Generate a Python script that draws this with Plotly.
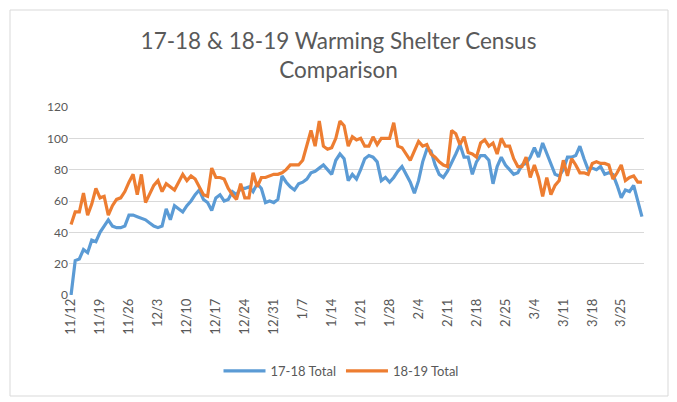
import pandas as pd
import plotly.graph_objects as go

start_date = "2017-11-12"
n_days = 139
dates = pd.date_range(start_date, periods=n_days, freq="D")

total_17_18 = [
    0, 22, 23, 29, 27, 35, 34, 40, 44, 48, 44, 43, 43, 44, 51, 51, 50, 49, 48, 46,
    44, 43, 44, 55, 48, 57, 55, 53, 57, 60, 64, 67, 61, 59, 54, 62, 64, 60, 61, 66,
    64, 68, 68, 69, 66, 71, 68, 59, 60, 59, 61, 76, 72, 69, 67, 71, 72, 74, 78, 79,
    81, 83, 80, 77, 86, 90, 87, 73, 77, 74, 80, 87, 89, 88, 85, 73, 75, 72, 75, 79,
    82, 77, 72, 65, 73, 85, 93, 92, 83, 77, 75, 79, 84, 90, 96, 88, 88, 77, 85, 89,
    89, 86, 71, 82, 88, 83, 80, 77, 78, 83, 84, 88, 94, 88, 97, 90, 84, 77, 76, 80,
    88, 88, 89, 95, 87, 80, 81, 80, 82, 77, 78, 77, 70, 62, 67, 66, 70, 60, 50,
]

total_18_19 = [
    45, 53, 53, 65, 51, 58, 68, 62, 63, 51, 57, 61, 62, 66, 72, 77, 64, 77, 59, 65,
    70, 73, 66, 71, 69, 67, 72, 77, 73, 76, 74, 69, 64, 63, 81, 75, 75, 74, 68, 64,
    61, 71, 62, 62, 78, 69, 75, 75, 76, 77, 77, 78, 80, 83, 83, 83, 86, 96, 105, 95,
    111, 95, 93, 94, 100, 111, 108, 95, 101, 99, 100, 95, 95, 101, 96, 100, 100, 100, 110, 95,
    94, 90, 86, 92, 98, 95, 96, 90, 88, 85, 83, 82, 105, 103, 96, 101, 91, 90, 88, 97,
    99, 95, 97, 90, 100, 95, 95, 87, 82, 82, 88, 75, 83, 75, 63, 75, 64, 70, 73, 86,
    76, 87, 83, 78, 78, 77, 84, 85, 84, 84, 83, 74, 78, 83, 73, 75, 76, 72, 72,
]

series_names = ["17-18 Total", "18-19 Total"]
y_ticks = [0, 20, 40, 60, 80, 100, 120]

W, H = 677, 402
ml, mr, mt, mb = 69, 33, 107, 107
pw, ph = W - ml - mr, H - mt - mb

fig = go.Figure()
fig.add_trace(go.Scatter(x=dates, y=total_17_18, mode="lines", name=series_names[0],
                         line=dict(color="#5B9BD5", width=3.2)))
fig.add_trace(go.Scatter(x=dates, y=total_18_19, mode="lines", name=series_names[1],
                         line=dict(color="#ED7D31", width=3.2)))

x0 = dates[0] - pd.Timedelta(hours=12)
x1 = dates[-1] + pd.Timedelta(hours=12)

def px_x(p):
    return (p - ml) / pw

def px_y(p):
    return 1 - (p - mt) / ph

fig.update_layout(
    width=W, height=H,
    margin=dict(l=ml, r=mr, t=mt, b=mb, autoexpand=False),
    paper_bgcolor="white", plot_bgcolor="white",
    font=dict(family="Lato, Open Sans, sans-serif", color="#595959", size=12),
    title=dict(text="17-18 & 18-19 Warming Shelter Census<br>Comparison",
               x=0.5, xref="container", xanchor="center", y=1 - 49 / H, yanchor="top",
               font=dict(size=22.5, color="#595959")),
    showlegend=True,
    legend=dict(orientation="h", x=px_x(341), xanchor="center", y=px_y(371), yanchor="middle",
                font=dict(size=13, color="#595959"), itemwidth=42, bgcolor="rgba(0,0,0,0)"),
    xaxis=dict(type="date", range=[x0, x1], tick0=dates[0], dtick=7 * 86400000,
               tickformat="%-m/%-d", tickangle=-90, showgrid=False, zeroline=False,
               showline=False, ticks="", tickfont=dict(size=13, color="#595959")),
    yaxis=dict(range=[0, 120], tickvals=y_ticks, showgrid=True, gridcolor="#D9D9D9",
               gridwidth=1, zeroline=False, showline=False, ticks="",
               tickfont=dict(size=12, color="#595959")),
    shapes=[
        dict(type="rect", xref="paper", yref="paper",
             x0=px_x(10), x1=px_x(668), y0=px_y(396), y1=px_y(10),
             line=dict(color="#D9D9D9", width=1), fillcolor="rgba(0,0,0,0)", layer="below"),
    ],
)

fig.write_html("out.html", config={"displayModeBar": False},
               post_script="document.body.style.margin='0';")
